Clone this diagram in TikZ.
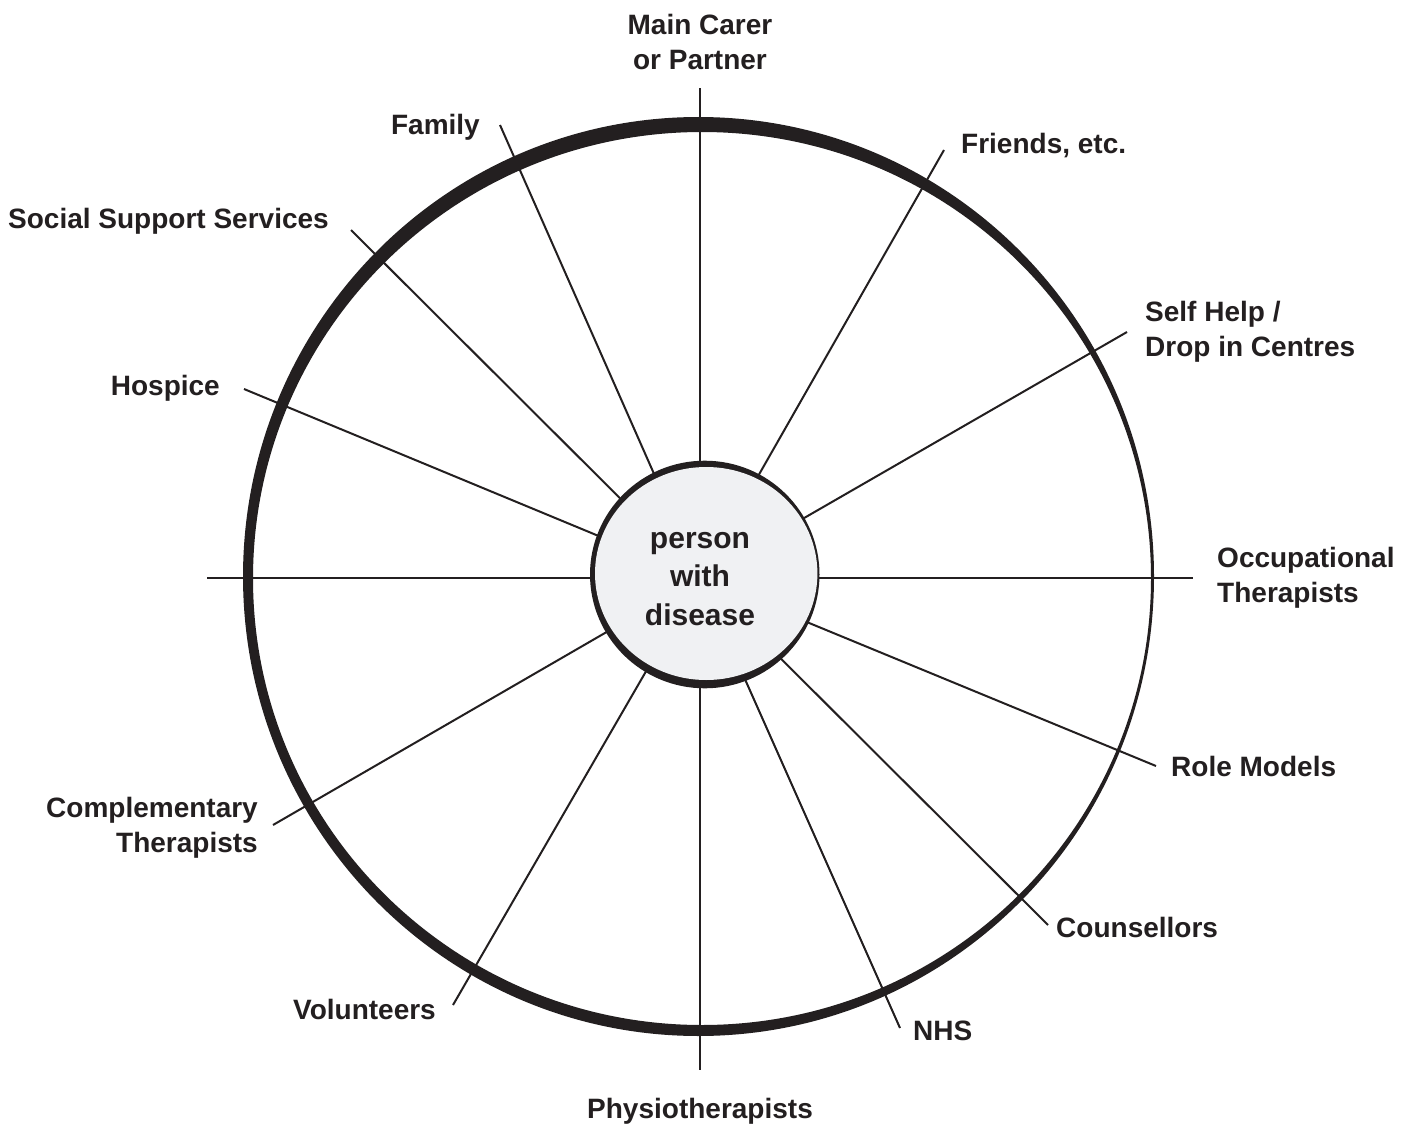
\documentclass[tikz,border=0pt]{standalone}
\usepackage{fontspec}
\setmainfont{Liberation Sans}
\definecolor{ink}{HTML}{231F20}
\definecolor{hubfill}{HTML}{F0F1F3}
\tikzset{
  lbl/.style={font=\fontsize{28}{35}\selectfont\bfseries, text=ink, inner sep=0pt},
  spoke/.style={draw=ink, line width=2pt},
}
\begin{document}
\begin{tikzpicture}[x=1pt,y=-1pt]
\useasboundingbox[fill=white] (0,0) rectangle (1413,1126);
% hub and spoke ends
\coordinate (hub) at (700,578);
\coordinate (eTop) at (700,88);
\coordinate (eFriends) at (944,150);
\coordinate (eSelf) at (1127,332);
\coordinate (eRight) at (1193,578);
\coordinate (eRole) at (1156,766);
\coordinate (eCouns) at (1048,925);
\coordinate (eNHS) at (900,1028);
\coordinate (eBottom) at (700,1070);
\coordinate (eVol) at (453,1005);
\coordinate (eComp) at (273,825);
\coordinate (eLeft) at (207,578);
\coordinate (eHosp) at (244,389);
\coordinate (eSocial) at (351,230);
\coordinate (eFamily) at (500,125);
% spokes
\foreach \e in {eTop,eFriends,eSelf,eRight,eRole,eCouns,eNHS,eBottom,eVol,eComp,eLeft,eHosp,eSocial,eFamily}
  \draw[spoke] (hub) -- (\e);
% outer ring (brush-like, variable thickness)
\fill[ink, even odd rule] (698.5,576.5) ellipse [x radius=455.5pt, y radius=459.5pt]
  (702,578.5) ellipse [x radius=449pt, y radius=446.5pt];
% central circle
\fill[ink] (704.75,574.5) ellipse [x radius=114.75pt, y radius=113.8pt];
\fill[hubfill] (706.2,573.5) ellipse [x radius=111.2pt, y radius=106.5pt];
\node[lbl, font=\fontsize{30}{38.5}\selectfont\bfseries, align=center, anchor=base] (person) at (700,625) {person\\with\\disease};
% labels
\node[lbl, align=center, anchor=base] (carer) at (700,70) {Main Carer\\or Partner};
\node[lbl, anchor=base east] (family) at (480,135) {Family};
\node[lbl, anchor=base west] (friends) at (961,154) {Friends, etc.};
\node[lbl, anchor=base west] (social) at (8,229) {Social Support Services};
\node[lbl, align=left, anchor=base west] (selfhelp) at (1145,356) {Self Help /\\Drop in Centres};
\node[lbl, anchor=base east] (hospice) at (220,395) {Hospice};
\node[lbl, align=left, anchor=base west] (occ) at (1217,602) {Occupational\\Therapists};
\node[lbl, anchor=base west] (role) at (1171,776) {Role Models};
\node[lbl, align=right, anchor=base east] (comp) at (258,852) {Complementary\\Therapists};
\node[lbl, anchor=base west] (couns) at (1056,937) {Counsellors};
\node[lbl, anchor=base east] (vol) at (436,1019) {Volunteers};
\node[lbl, anchor=base west] (nhs) at (913,1040) {NHS};
\node[lbl, anchor=base] (physio) at (700,1118) {Physiotherapists};
\end{tikzpicture}
\end{document}
